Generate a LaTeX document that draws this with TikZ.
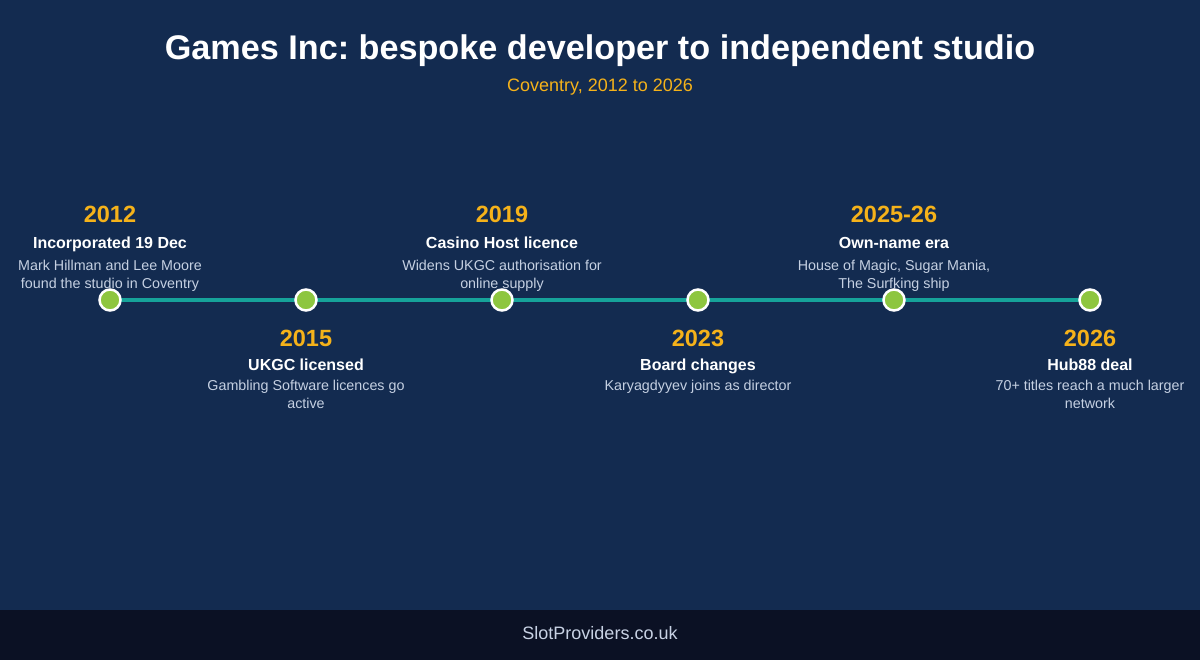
\documentclass[tikz,border=0pt]{standalone}
\usepackage{fontspec}
\setmainfont{Liberation Sans}
\frenchspacing
\definecolor{bg}{HTML}{132B50}
\definecolor{foot}{HTML}{0B1124}
\definecolor{teal}{HTML}{16A39A}
\definecolor{dotg}{HTML}{8DC63F}
\definecolor{gold}{HTML}{F5B21A}
\definecolor{desc}{HTML}{C5D0E2}
\definecolor{foottxt}{HTML}{C8D2E4}
\begin{document}
\begin{tikzpicture}[x=1pt,y=-1pt,
  yearlbl/.style={anchor=base,inner sep=0,text=gold,font=\fontsize{23.5}{26}\selectfont\bfseries},
  itemttl/.style={anchor=base,inner sep=0,text=white,font=\fontsize{16}{18}\selectfont\bfseries},
  itemdesc/.style={anchor=base,inner sep=0,text=desc,align=center,font=\fontsize{14.3}{18}\selectfont},
  dotnode/.style={circle,fill=dotg,draw=white,line width=2.5pt,minimum size=21pt,inner sep=0}]
\fill[bg] (0,0) rectangle (1200,660);
\fill[foot] (0,610) rectangle (1200,660);
\useasboundingbox (0,0) rectangle (1200,660);
\node[anchor=base,inner sep=0,text=white,font=\fontsize{34.2}{38}\selectfont\bfseries] (title) at (600,60) {Games Inc: bespoke developer to independent studio};
\node[anchor=base,inner sep=0,text=gold,font=\fontsize{18}{20}\selectfont] (subtitle) at (600,91.5) {Coventry, 2012 to 2026};
\node[anchor=base,inner sep=0,text=foottxt,font=\fontsize{18}{20}\selectfont] (footer) at (600,639.5) {SlotProviders.co.uk};
% upper items
\foreach \n/\x/\yr/\t/\da/\db in {
  a/110/2012/Incorporated 19 Dec/Mark Hillman and Lee Moore/found the studio in Coventry,
  c/502/2019/Casino Host licence/Widens UKGC authorisation for/online supply,
  e/894/2025-26/Own-name era/{House of Magic, Sugar Mania,}/The Surfking ship}{
  \node[yearlbl] (y\n) at (\x,222.4) {\yr};
  \node[itemttl] (t\n) at (\x,248.7) {\t};
  \node[itemdesc] (d\n) at (\x,289) {\da\\\db};
}
% lower items
\node[yearlbl] (yb) at (306,346.4) {2015};
\node[itemttl] (tb) at (306,370.7) {UKGC licensed};
\node[itemdesc] (db) at (306,409) {Gambling Software licences go\\active};
\node[yearlbl] (yd) at (698,346.4) {2023};
\node[itemttl] (td) at (698,370.7) {Board changes};
\node[itemdesc] (dd) at (698,391) {Karyagdyyev joins as director};
\node[yearlbl] (yf) at (1090,346.4) {2026};
\node[itemttl] (tf) at (1090,370.7) {Hub88 deal};
\node[itemdesc] (df) at (1090,409) {70+ titles reach a much larger\\network};
% timeline
\coordinate (ls) at (110,300);
\coordinate (le) at (1090,300);
\draw[teal,line width=4.5pt] (ls) -- (le);
\foreach \n/\x in {a/110,b/306,c/502,d/698,e/894,f/1090}{
  \node[dotnode] (p\n) at (\x,300) {};
}
\end{tikzpicture}
\end{document}
